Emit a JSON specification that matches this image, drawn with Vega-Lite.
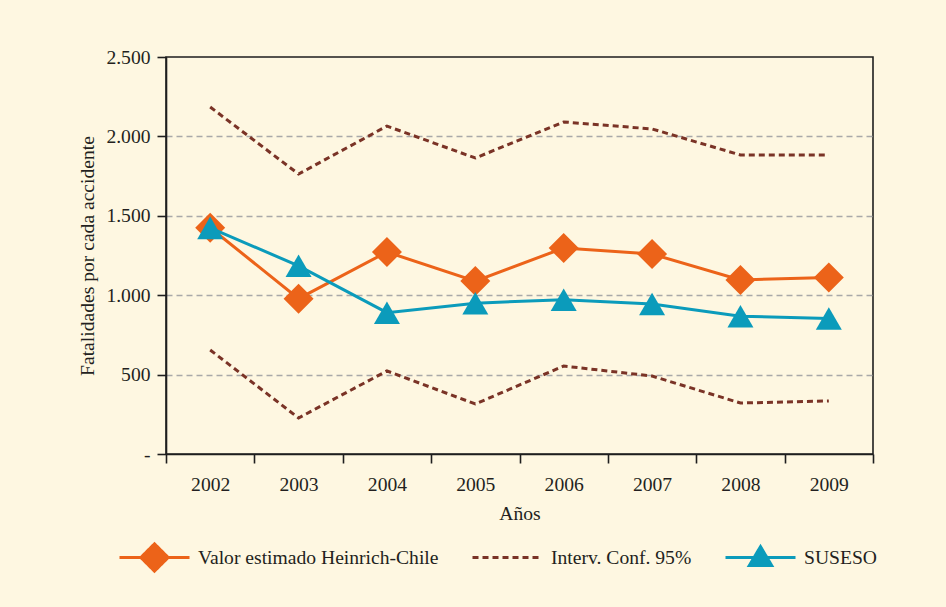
{
  "$schema": "https://vega.github.io/schema/vega-lite/v6.json",
  "width": 707,
  "height": 397,
  "autosize": {"type": "none"},
  "padding": {"left": 166, "top": 57, "right": 73, "bottom": 153},
  "background": "#fef7e1",
  "config": {
    "font": "Liberation Serif",
    "view": {"stroke": "#1e1e1e", "strokeWidth": 1.6, "fill": "#fef7e1"},
    "axis": {
      "labelFont": "Liberation Serif", "labelFontSize": 19.6, "labelColor": "#231f20",
      "titleFont": "Liberation Serif", "titleFontSize": 19.6, "titleFontWeight": "normal", "titleColor": "#231f20",
      "domainColor": "#1e1e1e", "domainWidth": 1.6, "tickColor": "#1e1e1e", "tickWidth": 1.6, "tickSize": 9
    }
  },
  "data": {
    "values": [
      {"year": "2002", "series": "Valor estimado Heinrich-Chile", "line": "H", "value": 1425},
      {"year": "2003", "series": "Valor estimado Heinrich-Chile", "line": "H", "value": 978},
      {"year": "2004", "series": "Valor estimado Heinrich-Chile", "line": "H", "value": 1272},
      {"year": "2005", "series": "Valor estimado Heinrich-Chile", "line": "H", "value": 1089},
      {"year": "2006", "series": "Valor estimado Heinrich-Chile", "line": "H", "value": 1297},
      {"year": "2007", "series": "Valor estimado Heinrich-Chile", "line": "H", "value": 1259},
      {"year": "2008", "series": "Valor estimado Heinrich-Chile", "line": "H", "value": 1096},
      {"year": "2009", "series": "Valor estimado Heinrich-Chile", "line": "H", "value": 1111},
      {"year": "2002", "series": "SUSESO", "line": "S", "value": 1424},
      {"year": "2003", "series": "SUSESO", "line": "S", "value": 1185},
      {"year": "2004", "series": "SUSESO", "line": "S", "value": 890},
      {"year": "2005", "series": "SUSESO", "line": "S", "value": 950},
      {"year": "2006", "series": "SUSESO", "line": "S", "value": 972},
      {"year": "2007", "series": "SUSESO", "line": "S", "value": 945},
      {"year": "2008", "series": "SUSESO", "line": "S", "value": 868},
      {"year": "2009", "series": "SUSESO", "line": "S", "value": 853},
      {"year": "2002", "series": "Interv. Conf. 95%", "line": "sup", "value": 2185},
      {"year": "2003", "series": "Interv. Conf. 95%", "line": "sup", "value": 1763},
      {"year": "2004", "series": "Interv. Conf. 95%", "line": "sup", "value": 2065},
      {"year": "2005", "series": "Interv. Conf. 95%", "line": "sup", "value": 1864},
      {"year": "2006", "series": "Interv. Conf. 95%", "line": "sup", "value": 2091},
      {"year": "2007", "series": "Interv. Conf. 95%", "line": "sup", "value": 2047},
      {"year": "2008", "series": "Interv. Conf. 95%", "line": "sup", "value": 1883},
      {"year": "2009", "series": "Interv. Conf. 95%", "line": "sup", "value": 1883},
      {"year": "2002", "series": "Interv. Conf. 95%", "line": "inf", "value": 655},
      {"year": "2003", "series": "Interv. Conf. 95%", "line": "inf", "value": 227},
      {"year": "2004", "series": "Interv. Conf. 95%", "line": "inf", "value": 523},
      {"year": "2005", "series": "Interv. Conf. 95%", "line": "inf", "value": 315},
      {"year": "2006", "series": "Interv. Conf. 95%", "line": "inf", "value": 554},
      {"year": "2007", "series": "Interv. Conf. 95%", "line": "inf", "value": 491},
      {"year": "2008", "series": "Interv. Conf. 95%", "line": "inf", "value": 321},
      {"year": "2009", "series": "Interv. Conf. 95%", "line": "inf", "value": 334}
    ]
  },
  "encoding": {
    "x": {
      "field": "year", "type": "ordinal",
      "scale": {"type": "band", "paddingInner": 0, "paddingOuter": 0},
      "axis": {"tickBand": "extent", "labelAngle": 0, "labelPadding": 12, "title": "Años", "titlePadding": 11, "grid": false}
    },
    "y": {
      "field": "value", "type": "quantitative",
      "scale": {"domain": [0, 2500], "nice": false},
      "axis": {
        "values": [0, 500, 1000, 1500, 2000, 2500],
        "labelExpr": "datum.value == 0 ? '-' : replace(format(datum.value, ','), ',', '.')",
        "grid": true, "gridDash": [6, 4], "gridColor": "#a9a9a9", "gridWidth": 1.3,
        "gridOpacity": {"condition": {"test": "datum.value == 0 || datum.value == 2500", "value": 0}, "value": 1},
        "labelPadding": 7, "title": "Fatalidades por cada accidente", "titlePadding": 8
      }
    }
  },
  "layer": [
    {
      "transform": [{"filter": "datum.series == 'Interv. Conf. 95%'"}],
      "mark": {"type": "line", "strokeWidth": 3, "strokeDash": [6, 4]},
      "encoding": {
        "detail": {"field": "line"},
        "color": {
          "field": "series", "type": "nominal",
          "scale": {"domain": ["Valor estimado Heinrich-Chile", "Interv. Conf. 95%", "SUSESO"], "range": ["#ec6319", "#7a3326", "#0b9bbb"]},
          "legend": {
            "orient": "none", "legendX": -48, "legendY": 464, "direction": "horizontal", "title": null,
            "symbolSize": 4900, "labelFont": "Liberation Serif", "labelFontSize": 19.6, "labelColor": "#231f20",
            "labelOffset": 7, "columnPadding": 27, "padding": 0, "labelLimit": 400,
            "encode": {
              "symbols": {
                "update": {
                  "shape": {"signal": "datum.value === 'Valor estimado Heinrich-Chile' ? 'M0,-0.5L0,-0.5M0,0.5L0,0.5M-1,0H1M0,-0.39L0.39,0L0,0.39L-0.39,0Z' : datum.value === 'SUSESO' ? 'M0,-0.5L0,-0.5M0,0.5L0,0.5M-1,0H1M0,-0.31L0.32,0.23L-0.32,0.23Z' : 'M0,-0.5L0,-0.5M0,0.5L0,0.5M-1,0H1'"},
                  "fill": {"signal": "datum.value === 'Valor estimado Heinrich-Chile' ? '#ec6319' : datum.value === 'SUSESO' ? '#0b9bbb' : 'transparent'"},
                  "stroke": {"signal": "datum.value === 'Valor estimado Heinrich-Chile' ? '#ec6319' : datum.value === 'SUSESO' ? '#0b9bbb' : '#7a3326'"},
                  "strokeDash": {"signal": "datum.value === 'Interv. Conf. 95%' ? [6, 4] : [1, 0]"},
                  "strokeWidth": {"value": 3},
                  "opacity": {"value": 1}
                }
              }
            }
          }
        }
      }
    },
    {
      "transform": [{"filter": "datum.series == 'Valor estimado Heinrich-Chile'"}],
      "mark": {"type": "line", "strokeWidth": 3},
      "encoding": {"color": {"field": "series", "type": "nominal"}}
    },
    {
      "transform": [{"filter": "datum.series == 'Valor estimado Heinrich-Chile'"}],
      "mark": {"type": "point", "shape": "diamond", "filled": true, "size": 900, "opacity": 1, "color": "#ec6319"},
      "encoding": {}
    },
    {
      "transform": [{"filter": "datum.series == 'SUSESO'"}],
      "mark": {"type": "line", "strokeWidth": 3},
      "encoding": {"color": {"field": "series", "type": "nominal"}}
    },
    {
      "transform": [{"filter": "datum.series == 'SUSESO'"}],
      "mark": {"type": "point", "shape": "triangle-up", "filled": true, "size": 676, "opacity": 1, "color": "#0b9bbb"},
      "encoding": {}
    }
  ]
}
